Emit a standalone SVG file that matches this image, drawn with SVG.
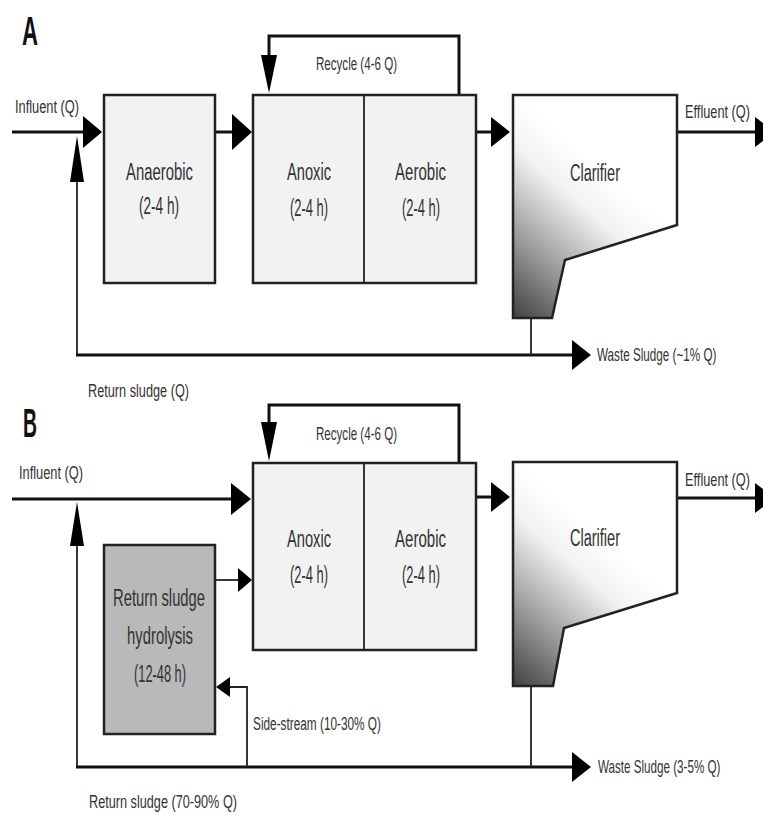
<svg xmlns="http://www.w3.org/2000/svg" width="763" height="815" viewBox="0 0 763 815">
<style>
  .box { fill: #f2f2f2; stroke: #222; stroke-width: 2.5; }
  .hyd { fill: #b9b9b9; stroke: #222; stroke-width: 2.5; }
  .clar { fill: url(#cg); stroke: #222; stroke-width: 2.5; stroke-linejoin: miter; }
  .div { stroke: #222; stroke-width: 1.8; }
  .ln { fill: none; stroke: #111; stroke-width: 3; }
  .thin { fill: none; stroke: #222; stroke-width: 1.8; }
  .ah { fill: #000; stroke: none; }
  text { font-family: "Liberation Sans", Arial, sans-serif; fill: #333; }
  .lbl { font-size: 18px; }
  .big { font-size: 23px; }
  .panel { font-size: 40px; font-weight: bold; fill: #111; }
</style>
<defs>
  <linearGradient id="cg" x1="0.05" y1="1" x2="0.5" y2="0.3">
    <stop offset="0" stop-color="#474747"/>
    <stop offset="0.35" stop-color="#9a9a9a"/>
    <stop offset="0.75" stop-color="#f2f2f2"/>
    <stop offset="1" stop-color="#ffffff"/>
  </linearGradient>
</defs>
<rect width="763" height="815" fill="#fff"/>

<text class="panel" x="22" y="45" textLength="16" lengthAdjust="spacingAndGlyphs">A</text>
<text class="panel" x="23" y="437" textLength="14" lengthAdjust="spacingAndGlyphs">B</text>

<g id="connectors">
  <!-- Panel A -->
  <line class="ln" x1="12" y1="132" x2="86" y2="132"/>
  <polygon class="ah" points="83,116 102,132 83,148"/>
  <line class="thin" x1="77" y1="355" x2="77" y2="175"/>
  <polygon class="ah" points="70,182 77,136 84,182"/>
  <line class="ln" x1="215" y1="132" x2="235" y2="132"/>
  <polygon class="ah" points="232,114 252,132 232,150"/>
  <polyline class="ln" points="459,95 459,36 269,36 269,60"/>
  <polygon class="ah" points="261,55 269,93 277,55"/>
  <line class="ln" x1="476" y1="132" x2="494" y2="132"/>
  <polygon class="ah" points="491,117 510,132 491,147"/>
  <line class="ln" x1="677" y1="132" x2="758" y2="132"/>
  <polygon class="ah" points="755,117 775,132 755,147"/>
  <line class="ln" x1="76" y1="355" x2="575" y2="355"/>
  <polygon class="ah" points="572,340 591,355 572,370"/>
  <line class="thin" x1="531" y1="318" x2="531" y2="355"/>

  <!-- Panel B -->
  <line class="ln" x1="12" y1="499" x2="235" y2="499"/>
  <polygon class="ah" points="231,483 251,499 231,515"/>
  <line class="thin" x1="77" y1="767" x2="77" y2="540"/>
  <polygon class="ah" points="70,546 77,502 84,546"/>
  <line class="thin" x1="215" y1="580" x2="240" y2="580"/>
  <polygon class="ah" points="238,568 252,580 238,592"/>
  <polyline class="ln" points="459,463 459,405 269,405 269,430"/>
  <polygon class="ah" points="261,422 269,461 277,422"/>
  <line class="ln" x1="476" y1="497" x2="494" y2="497"/>
  <polygon class="ah" points="491,482 510,497 491,512"/>
  <line class="ln" x1="677" y1="498" x2="758" y2="498"/>
  <polygon class="ah" points="755,483 775,498 755,513"/>
  <line class="ln" x1="76" y1="767" x2="575" y2="767"/>
  <polygon class="ah" points="572,752 591,767 572,782"/>
  <line class="thin" x1="531" y1="686" x2="531" y2="767"/>
  <polyline class="thin" points="247,767 247,687 228,687"/>
  <polygon class="ah" points="230,677 216,687 230,697"/>
</g>

<!-- Panel A nodes -->
<g id="anaerobic-a">
  <rect class="box" x="104" y="95" width="111" height="188"/>
  <text class="big" x="126" y="180" textLength="67" lengthAdjust="spacingAndGlyphs">Anaerobic</text>
  <text class="big" x="139" y="214" textLength="40" lengthAdjust="spacingAndGlyphs">(2-4 h)</text>
</g>
<g id="anoxic-aerobic-a">
  <rect class="box" x="253" y="95" width="223" height="188"/>
  <line class="div" x1="364" y1="95" x2="364" y2="283"/>
  <text class="big" x="287" y="180" textLength="44" lengthAdjust="spacingAndGlyphs">Anoxic</text>
  <text class="big" x="290" y="216" textLength="38" lengthAdjust="spacingAndGlyphs">(2-4 h)</text>
  <text class="big" x="395" y="180" textLength="51" lengthAdjust="spacingAndGlyphs">Aerobic</text>
  <text class="big" x="402" y="216" textLength="38" lengthAdjust="spacingAndGlyphs">(2-4 h)</text>
</g>
<g id="clarifier-a">
  <polygon class="clar" points="513,95 677,95 677,225 565,260 552,318 513,318"/>
  <text class="big" x="570" y="181" textLength="50" lengthAdjust="spacingAndGlyphs">Clarifier</text>
</g>
<g id="labels-a">
  <text class="lbl" x="15" y="113" textLength="64" lengthAdjust="spacingAndGlyphs">Influent (Q)</text>
  <text class="lbl" x="316" y="70" textLength="81" lengthAdjust="spacingAndGlyphs">Recycle (4-6 Q)</text>
  <text class="lbl" transform="translate(685,118) scale(0.71,1)" x="0" y="0">Effluent (Q)</text>
  <text class="lbl" transform="translate(597,361) scale(0.65,1)" x="0" y="0">Waste Sludge (~1% Q)</text>
  <text class="lbl" x="88" y="397" textLength="101" lengthAdjust="spacingAndGlyphs">Return sludge (Q)</text>
</g>

<!-- Panel B nodes -->
<g id="hydrolysis-b">
  <rect class="hyd" x="104" y="545" width="111" height="189"/>
  <text class="big" x="113" y="606" textLength="92" lengthAdjust="spacingAndGlyphs">Return sludge</text>
  <text class="big" x="127" y="644" textLength="66" lengthAdjust="spacingAndGlyphs">hydrolysis</text>
  <text class="big" x="134" y="682" textLength="52" lengthAdjust="spacingAndGlyphs">(12-48 h)</text>
</g>
<g id="anoxic-aerobic-b">
  <rect class="box" x="253" y="463" width="223" height="187"/>
  <line class="div" x1="364" y1="463" x2="364" y2="650"/>
  <text class="big" x="287" y="547" textLength="44" lengthAdjust="spacingAndGlyphs">Anoxic</text>
  <text class="big" x="290" y="583" textLength="38" lengthAdjust="spacingAndGlyphs">(2-4 h)</text>
  <text class="big" x="395" y="547" textLength="51" lengthAdjust="spacingAndGlyphs">Aerobic</text>
  <text class="big" x="402" y="583" textLength="38" lengthAdjust="spacingAndGlyphs">(2-4 h)</text>
</g>
<g id="clarifier-b">
  <polygon class="clar" points="513,462 677,462 677,593 564,628 553,686 513,686"/>
  <text class="big" x="570" y="546" textLength="50" lengthAdjust="spacingAndGlyphs">Clarifier</text>
</g>
<g id="labels-b">
  <text class="lbl" x="19" y="479" textLength="64" lengthAdjust="spacingAndGlyphs">Influent (Q)</text>
  <text class="lbl" x="316" y="440" textLength="81" lengthAdjust="spacingAndGlyphs">Recycle (4-6 Q)</text>
  <text class="lbl" transform="translate(685,486) scale(0.71,1)" x="0" y="0">Effluent (Q)</text>
  <text class="lbl" x="253" y="730" textLength="128" lengthAdjust="spacingAndGlyphs">Side-stream (10-30% Q)</text>
  <text class="lbl" transform="translate(598,773) scale(0.647,1)" x="0" y="0">Waste Sludge (3-5% Q)</text>
  <text class="lbl" x="89" y="808" textLength="148" lengthAdjust="spacingAndGlyphs">Return sludge (70-90% Q)</text>
</g>
</svg>
